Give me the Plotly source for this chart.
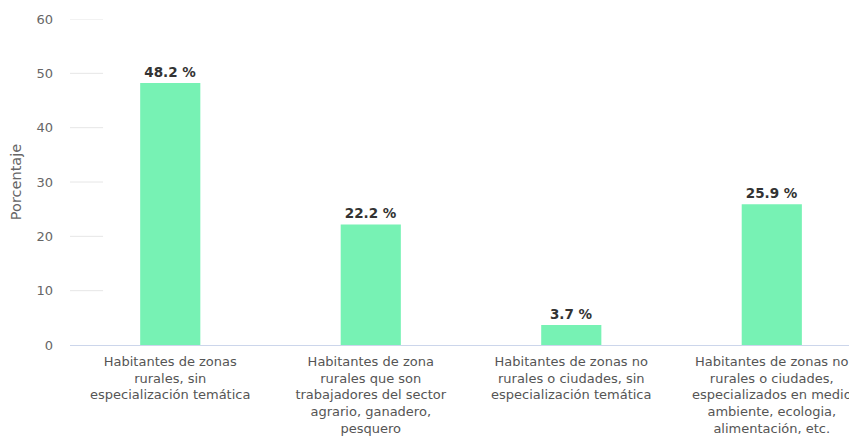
# Porcentaje de habitantes por tipo de zona

import plotly.graph_objects as go

categorias = [
    "Habitantes de zonas<br>rurales, sin<br>especialización temática",
    "Habitantes de zona<br>rurales que son<br>trabajadores del sector<br>agrario, ganadero,<br>pesquero",
    "Habitantes de zonas no<br>rurales o ciudades, sin<br>especialización temática",
    "Habitantes de zonas no<br>rurales o ciudades,<br>especializados en medio<br>ambiente, ecologia,<br>alimentación, etc.",
]
porcentajes = [48.2, 22.2, 3.7, 25.9]
y_ticks = [0, 10, 20, 30, 40, 50, 60]

COLOR_BAR = "#77f2b4"
FONT = "DejaVu Sans"

fig = go.Figure(
    go.Bar(
        x=list(range(len(categorias))),
        y=porcentajes,
        width=0.3,
        marker=dict(color=COLOR_BAR, line=dict(width=0)),
        texttemplate="%{y:.1f} %",
        textposition="outside",
        textfont=dict(family=FONT, size=13.5, color="#333333", weight="bold"),
        cliponaxis=False,
    )
)

# líneas de cuadrícula cortas (sólo junto al eje)
for v in y_ticks[1:]:
    fig.add_shape(type="line", xref="paper", yref="y",
                  x0=0, x1=0.042, y0=v, y1=v,
                  line=dict(color="#e6e6e6", width=1), layer="below")

fig.update_xaxes(
    range=[-0.5, 3.425],
    tickvals=list(range(len(categorias))),
    ticktext=categorias,
    tickangle=0,
    ticks="",
    showgrid=False,
    showline=True, linecolor="#ccd6eb", linewidth=1,
    tickfont=dict(family=FONT, size=13, color="#555555"),
    ticklabelstandoff=4,
    zeroline=False,
)
fig.update_yaxes(
    range=[0, 60],
    tickvals=y_ticks,
    showgrid=False,
    zeroline=False,
    ticks="",
    tickfont=dict(family=FONT, size=13, color="#666666"),
    title=dict(text="Porcentaje", font=dict(family=FONT, size=14.5, color="#666666"),
               standoff=14),
    ticklabelstandoff=16,
)
fig.update_layout(
    width=857, height=439,
    margin=dict(l=62, r=8, t=11, b=102, autoexpand=False),
    showlegend=False,
    paper_bgcolor="white",
    plot_bgcolor="white",
    bargap=0.7,
)
fig.write_html("out.html")
